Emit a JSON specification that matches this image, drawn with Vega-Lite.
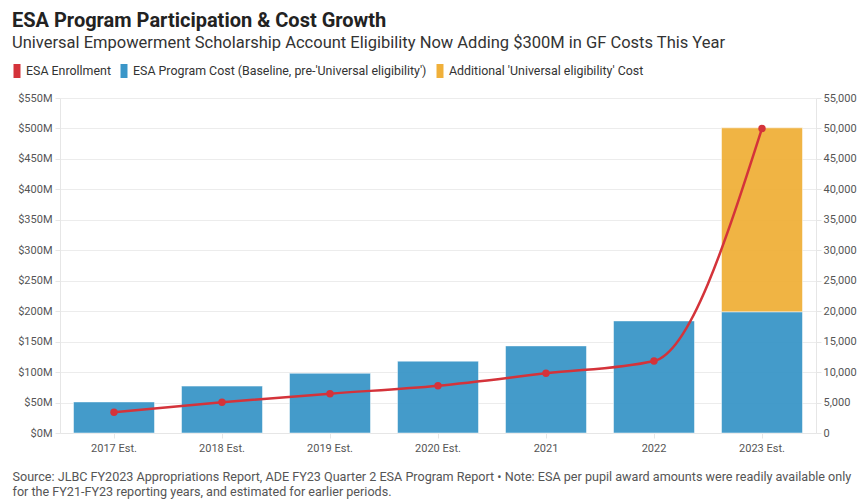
{
  "$schema": "https://vega.github.io/schema/vega-lite/v6.json",
  "autosize": {"type": "none"},
  "width": 756,
  "height": 335,
  "padding": {"left": 60, "top": 98, "right": 52, "bottom": 71},
  "background": "white",
  "title": {
    "text": "ESA Program Participation & Cost Growth",
    "subtitle": "Universal Empowerment Scholarship Account Eligibility Now Adding $300M in GF Costs This Year",
    "anchor": "start",
    "frame": "group",
    "dx": -48,
    "offset": 13
  },
  "datasets": {
    "costs": [
      {"year": "2017 Est.", "series": "ESA Program Cost (Baseline, pre-'Universal eligibility')", "cost": 51},
      {"year": "2018 Est.", "series": "ESA Program Cost (Baseline, pre-'Universal eligibility')", "cost": 77},
      {"year": "2019 Est.", "series": "ESA Program Cost (Baseline, pre-'Universal eligibility')", "cost": 98},
      {"year": "2020 Est.", "series": "ESA Program Cost (Baseline, pre-'Universal eligibility')", "cost": 118},
      {"year": "2021", "series": "ESA Program Cost (Baseline, pre-'Universal eligibility')", "cost": 143},
      {"year": "2022", "series": "ESA Program Cost (Baseline, pre-'Universal eligibility')", "cost": 184},
      {"year": "2023 Est.", "series": "ESA Program Cost (Baseline, pre-'Universal eligibility')", "cost": 199},
      {"year": "2023 Est.", "series": "Additional 'Universal eligibility' Cost", "cost": 302}
    ],
    "enroll": [
      {"year": "2017 Est.", "enrollment": 3400},
      {"year": "2018 Est.", "enrollment": 5040},
      {"year": "2019 Est.", "enrollment": 6450},
      {"year": "2020 Est.", "enrollment": 7770},
      {"year": "2021", "enrollment": 9800},
      {"year": "2022", "enrollment": 11820},
      {"year": "2023 Est.", "enrollment": 50000}
    ]
  },
  "encoding": {
    "x": {
      "field": "year",
      "type": "nominal",
      "sort": null,
      "scale": {"paddingInner": 0.25, "paddingOuter": 0.125},
      "axis": {
        "labelAngle": 0,
        "grid": false,
        "domain": true,
        "ticks": true,
        "tickSize": 5,
        "labelPadding": 4,
        "title": [
          "Source: JLBC FY2023 Appropriations Report, ADE FY23 Quarter 2 ESA Program Report • Note: ESA per pupil award amounts were readily available only",
          "for the FY21-FY23 reporting years, and estimated for earlier periods."
        ],
        "titleAnchor": "start",
        "titleAlign": "left",
        "titleBaseline": "top",
        "titleX": -48,
        "titleY": 37,
        "titleFontSize": 12.6,
        "titleFontWeight": "normal",
        "titleColor": "#555555",
        "titleLineHeight": 15
      }
    }
  },
  "layer": [
    {
      "data": {"name": "costs"},
      "mark": {"type": "bar", "stroke": "#ffffff", "strokeWidth": 1, "strokeOpacity": 0.5, "opacity": 0.95},
      "encoding": {
        "y": {
          "field": "cost",
          "type": "quantitative",
          "stack": "zero",
          "scale": {"domain": [0, 550], "nice": false, "zero": true},
          "axis": {
            "values": [0, 50, 100, 150, 200, 250, 300, 350, 400, 450, 500, 550],
            "labelExpr": "'$' + datum.value + 'M'",
            "title": null,
            "grid": true,
            "domain": true,
            "tickSize": 5,
            "labelPadding": 3,
            "orient": "left"
          }
        },
        "color": {
          "field": "series",
          "type": "nominal",
          "scale": {
            "domain": ["ESA Enrollment", "ESA Program Cost (Baseline, pre-'Universal eligibility')", "Additional 'Universal eligibility' Cost"],
            "range": ["#d4333a", "#3a96c8", "#f0b03a"]
          },
          "legend": {
            "orient": "none",
            "legendX": -50,
            "legendY": -34,
            "direction": "horizontal",
            "title": null,
            "symbolType": "M-0.5,-1H0.5V1H-0.5Z",
            "symbolSize": 196,
            "symbolStrokeWidth": 0,
            "symbolOpacity": 1,
            "labelFontSize": 12.4,
            "labelColor": "#333333",
            "labelFont": "Roboto",
            "labelOffset": 2,
            "columnPadding": 6,
            "labelLimit": 400
          }
        },
        "order": {"field": "series", "sort": "descending"}
      }
    },
    {
      "data": {"name": "enroll"},
      "mark": {"type": "line", "color": "#d4333a", "strokeWidth": 2.5, "interpolate": "monotone", "point": {"filled": true, "size": 55, "color": "#d4333a"}},
      "encoding": {
        "y": {
          "field": "enrollment",
          "type": "quantitative",
          "scale": {"domain": [0, 55000], "nice": false},
          "axis": {
            "orient": "right",
            "values": [0, 5000, 10000, 15000, 20000, 25000, 30000, 35000, 40000, 45000, 50000, 55000],
            "format": ",.0f",
            "title": null,
            "grid": false,
            "domain": true,
            "tickSize": 5,
            "labelPadding": 2
          }
        }
      }
    }
  ],
  "resolve": {"scale": {"y": "independent", "color": "independent"}},
  "config": {
    "font": "Roboto",
    "view": {"stroke": null},
    "title": {
      "font": "Roboto",
      "fontSize": 20,
      "fontWeight": "bold",
      "color": "#222222",
      "subtitleFont": "Roboto",
      "subtitleFontSize": 16.5,
      "subtitleColor": "#333333",
      "subtitlePadding": 4
    },
    "axis": {
      "labelFont": "Roboto",
      "labelFontSize": 11,
      "labelColor": "#555555",
      "gridColor": "#ececec",
      "gridWidth": 1,
      "domainColor": "#e6e6e6",
      "tickColor": "#e6e6e6"
    }
  }
}
